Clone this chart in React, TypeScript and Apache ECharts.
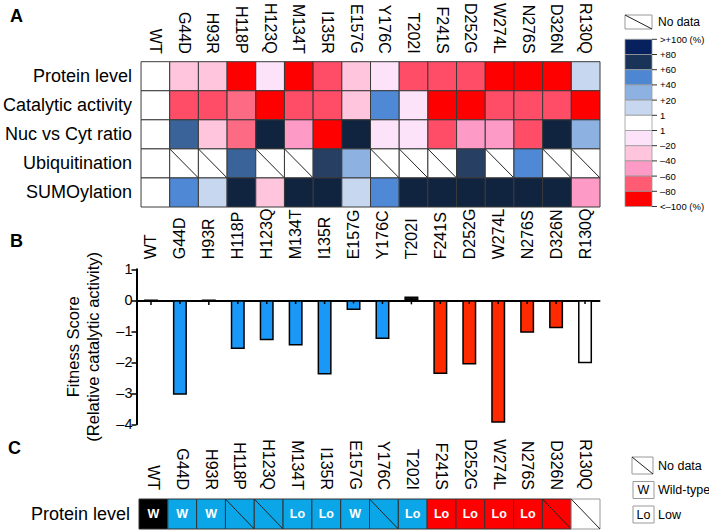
import React, { useEffect, useRef } from "react";
import * as echarts from "echarts";

// ---------- DATA ----------
const mutants = ["WT", "G44D", "H93R", "H118P", "H123Q", "M134T", "I135R", "E157G", "Y176C", "T202I", "F241S", "D252G", "W274L", "N276S", "D326N", "R130Q"];
const heatRows = ["Protein level", "Catalytic activity", "Nuc vs Cyt ratio", "Ubiquitination", "SUMOylation"];

// percent change vs WT (null = no data)
const proteinLevel = [0, -35, -35, -100, -15, -100, -80, -35, -15, -80, -80, -80, -100, -100, -100, 15];
const catalyticActivity = [0, -80, -80, -75, -100, -80, -80, -35, 50, -15, -100, -100, -80, -80, -80, -100];
const nucCytRatio = [0, 65, -35, -75, 90, -55, -100, 90, -15, -15, -80, -55, -55, -80, 90, 30];
const ubiquitination = [0, null, null, 65, null, null, 80, 30, null, null, null, 80, null, 50, null, null];
const sumoylation = [0, 50, 15, 90, -35, 90, 90, 15, 50, 90, 90, 90, 90, 90, 90, -55];

// Panel B: fitness score (relative catalytic activity)
const fitnessScore = [0, -3.05, 0, -1.57, -1.29, -1.46, -2.39, -0.31, -1.25, 0.07, -2.38, -2.07, -3.95, -1.05, -0.9, -2.03];
const fitnessErr = [0.15, 0.12, 0.15, 0.12, 0.12, 0.12, 0.12, 0.1, 0.12, 0.2, 0.12, 0.12, 0.12, 0.12, 0.12, 0.12];
const mutantGroup = ["wt", "blue", "blue", "blue", "blue", "blue", "blue", "blue", "blue", "blue", "red", "red", "red", "red", "red", "none"];

// Panel C: protein level class
const cRow = ["Protein level"];
const proteinClass = ["W", "W", "W", null, null, "Lo", "Lo", "W", null, "Lo", "Lo", "Lo", "Lo", "Lo", null, null];

// legends
const scaleLabels = [">+100 (%)", "+80", "+60", "+40", "+20", "1", "1", "–20", "–40", "–60", "–80", "<–100 (%)"];
const scaleColors = ["#06215e", "#1a3358", "#4f86d2", "#8db1e0", "#c6d7ef", "#ffffff", "#fde3fa", "#fec5dc", "#fd9bc6", "#ff5b73", "#ff0000"];
const cLegendLabels = ["No data", "Wild-type", "Low"];
const cLegendKeys = ["", "W", "Lo"];
const yTicks = [1, 0, -1, -2, -3, -4];

// ---------- STYLE ----------
const FONT = "'Liberation Sans', Arial, Helvetica, sans-serif";

function heatColor(v: number): string {
  if (v >= 85) return "#10233f";
  if (v >= 75) return "#263f63";
  if (v >= 60) return "#3a6399";
  if (v >= 40) return "#4f88d4";
  if (v >= 20) return "#8db1e0";
  if (v >= 1) return "#c6d7ef";
  if (v > -1) return "#ffffff";
  if (v > -20) return "#fde3fa";
  if (v > -40) return "#fec5dc";
  if (v > -60) return "#fd9bc6";
  if (v > -78) return "#fd6a84";
  if (v > -95) return "#ff4d68";
  return "#ff0000";
}
const barColor: Record<string, string> = { wt: "#000000", blue: "#1a98f8", red: "#ff2a00", none: "#ffffff" };
const cColor: Record<string, string> = { wt: "#000000", blue: "#0aa6e8", red: "#ff0000", none: "#ffffff" };

export default function App() {
  const ref = useRef<HTMLDivElement>(null);
  useEffect(() => {
    if (!ref.current) return;
    const chart = echarts.init(ref.current, undefined, { renderer: "svg" });

    const heatMatrix = [proteinLevel, catalyticActivity, nucCytRatio, ubiquitination, sumoylation];
    const heatData: number[][] = [];
    const heatVals: (number | null)[] = [];
    heatMatrix.forEach((row, r) =>
      row.forEach((v, c) => {
        heatData.push([c, r]);
        heatVals.push(v);
      })
    );

    const cData = mutants.map((_, i) => [i, 0]);

    // legends (graphic)
    const cellH = 15.2;
    const legendA: any[] = [];
    legendA.push({ type: "rect", shape: { x: 625, y: 15, width: 27, height: 14 }, style: { fill: "#fff", stroke: "#999", lineWidth: 1 } });
    legendA.push({ type: "line", shape: { x1: 625, y1: 15, x2: 652, y2: 29 }, style: { stroke: "#222", lineWidth: 1 } });
    legendA.push({ type: "text", x: 658, y: 22, style: { text: "No data", fontSize: 12, fontFamily: FONT, fill: "#000", verticalAlign: "middle" } });
    scaleColors.forEach((col, i) => {
      legendA.push({ type: "rect", shape: { x: 625, y: 39.3 + i * cellH, width: 27, height: cellH }, style: { fill: col, stroke: "#9a9a9a", lineWidth: 0.8 } });
    });
    scaleLabels.forEach((lab, i) => {
      const y = 39.3 + i * cellH;
      legendA.push({ type: "line", shape: { x1: 652, y1: y, x2: 657, y2: y }, style: { stroke: "#333", lineWidth: 1 } });
      legendA.push({ type: "text", x: 660, y, style: { text: lab, fontSize: 9.5, fontFamily: FONT, fill: "#000", verticalAlign: "middle" } });
    });

    const legendC: any[] = [];
    cLegendLabels.forEach((lab, i) => {
      const y = 457 + i * 24.5;
      legendC.push({ type: "rect", shape: { x: i === 0 ? 632 : 633, y, width: 21, height: 17 }, style: { fill: "#fff", stroke: "#999", lineWidth: 1 } });
      if (i === 0) legendC.push({ type: "line", shape: { x1: 632, y1: y, x2: 653, y2: y + 17 }, style: { stroke: "#222", lineWidth: 1 } });
      else legendC.push({ type: "text", x: 643.5, y: y + 8.5, style: { text: cLegendKeys[i], fontSize: 12.5, fontFamily: FONT, fill: "#000", align: "center", verticalAlign: "middle" } });
      legendC.push({ type: "text", x: 658, y: y + 8.5, style: { text: lab, fontSize: 12.5, fontFamily: FONT, fill: "#000", verticalAlign: "middle" } });
    });

    const panelLetters = [
      { t: "A", x: 10, y: 7 },
      { t: "B", x: 10, y: 232 },
      { t: "C", x: 8, y: 439 },
    ].map((p) => ({ type: "text", x: p.x, y: p.y, style: { text: p.t, fontSize: 18, fontWeight: "bold", fontFamily: FONT, fill: "#000" } }));

    const option: any = {
      animation: false,
      textStyle: { fontFamily: FONT },
      grid: [
        { left: 139, top: 58, width: 461, height: 149 },
        { left: 136.5, top: 269.3, width: 463, height: 155 },
        { left: 139, top: 499, width: 461, height: 30 },
      ],
      xAxis: [
        {
          gridIndex: 0, type: "category", data: mutants, position: "top",
          axisLine: { show: false }, axisTick: { show: false },
          axisLabel: { rotate: 90, fontSize: 16, color: "#000", margin: 8, interval: 0 },
        },
        {
          gridIndex: 1, type: "category", data: mutants, position: "top",
          axisLine: { show: true, onZero: true, lineStyle: { color: "#000", width: 2 } },
          axisTick: { show: false },
          axisLabel: { rotate: 90, fontSize: 16, color: "#000", margin: 10, interval: 0 },
        },
        {
          gridIndex: 2, type: "category", data: mutants, position: "top",
          axisLine: { show: false }, axisTick: { show: false },
          axisLabel: { rotate: 90, fontSize: 16, color: "#000", margin: 9, interval: 0 },
        },
      ],
      yAxis: [
        {
          gridIndex: 0, type: "category", data: heatRows, inverse: true,
          axisLine: { show: false }, axisTick: { show: false },
          axisLabel: { fontSize: 18, color: "#000", margin: 9 },
        },
        {
          gridIndex: 1, type: "value", min: -4, max: 1, interval: 1,
          axisLine: { show: true, lineStyle: { color: "#000", width: 2 } },
          axisTick: { show: true, length: 5, lineStyle: { color: "#000", width: 1.5 } },
          splitLine: { show: false },
          axisLabel: { fontSize: 14.5, color: "#000", margin: 4, formatter: (v: number) => String(v).replace("-", "–") },
          name: "Fitness Score\n(Relative catalytic activity)",
          nameLocation: "middle", nameRotate: 90, nameGap: 34,
          nameTextStyle: { fontSize: 16.5, color: "#000", lineHeight: 20 },
        },
        {
          gridIndex: 2, type: "category", data: cRow,
          axisLine: { show: false }, axisTick: { show: false },
          axisLabel: { fontSize: 18, color: "#000", margin: 9 },
        },
      ],
      series: [
        {
          type: "custom", xAxisIndex: 0, yAxisIndex: 0, data: heatData,
          encode: { x: 0, y: 1 },
          renderItem: (params: any, api: any) => {
            const v = heatVals[params.dataIndex];
            const p = api.coord([api.value(0), api.value(1)]);
            const s = api.size([1, 1]);
            const x0 = p[0] - s[0] / 2, y0 = p[1] - s[1] / 2;
            const children: any[] = [
              { type: "rect", shape: { x: x0, y: y0, width: s[0], height: s[1] }, style: { fill: v === null ? "#fff" : heatColor(v), stroke: "#3a3a3a", lineWidth: 1 } },
            ];
            if (v === null) children.push({ type: "line", shape: { x1: x0, y1: y0, x2: x0 + s[0], y2: y0 + s[1] }, style: { stroke: "#222", lineWidth: 1 } });
            return { type: "group", children };
          },
        },
        {
          type: "bar", xAxisIndex: 1, yAxisIndex: 1, barWidth: 14,
          data: fitnessScore.map((v, i) => ({ value: v, itemStyle: { color: barColor[mutantGroup[i]] } })),
          itemStyle: { borderColor: "#000", borderWidth: 1.5 },
        },
        {
          type: "custom", xAxisIndex: 1, yAxisIndex: 1, z: 5,
          data: fitnessErr.map((e, i) => [i, e]),
          encode: { x: 0, y: 1 },
          renderItem: (params: any, api: any) => {
            const i = api.value(0);
            const e = api.value(1);
            const top = Math.max(0, fitnessScore[i]);
            const a = api.coord([i, top]);
            const b = api.coord([i, top - e]);
            const children: any[] = [{ type: "line", shape: { x1: a[0], y1: a[1], x2: b[0], y2: b[1] }, style: { stroke: "#000", lineWidth: 1.5 } }];
            if (fitnessScore[i] > 0) {
              const c = api.coord([i, fitnessScore[i] + 0.02]);
              children.push({ type: "line", shape: { x1: c[0] - 7, y1: c[1], x2: c[0] + 7, y2: c[1] }, style: { stroke: "#000", lineWidth: 2 } });
            }
            return { type: "group", children };
          },
        },
        {
          type: "custom", xAxisIndex: 2, yAxisIndex: 2, data: cData,
          encode: { x: 0, y: 1 },
          renderItem: (params: any, api: any) => {
            const i = params.dataIndex;
            const cls = proteinClass[i];
            const grp = mutantGroup[i];
            const p = api.coord([api.value(0), api.value(1)]);
            const s = api.size([1, 1]);
            const x0 = p[0] - s[0] / 2, y0 = p[1] - s[1] / 2;
            const children: any[] = [
              { type: "rect", shape: { x: x0, y: y0, width: s[0], height: s[1] }, style: { fill: cColor[grp], stroke: grp === "none" ? "#999" : "#333", lineWidth: 1 } },
            ];
            if (cls === null) children.push({ type: "line", shape: { x1: x0, y1: y0, x2: x0 + s[0], y2: y0 + s[1] }, style: { stroke: "#222", lineWidth: 1 } });
            else children.push({ type: "text", x: p[0], y: p[1], style: { text: cls, fill: "#fff", fontSize: 12.5, fontWeight: "bold", fontFamily: FONT, align: "center", verticalAlign: "middle" } });
            return { type: "group", children };
          },
        },
      ],
      graphic: [...panelLetters, ...legendA, ...legendC],
    };
    chart.setOption(option);
    return () => chart.dispose();
  }, []);
  return <div ref={ref} style={{ position: "fixed", left: 0, top: 0, width: 709, height: 530, background: "#fff" }} />;
}
